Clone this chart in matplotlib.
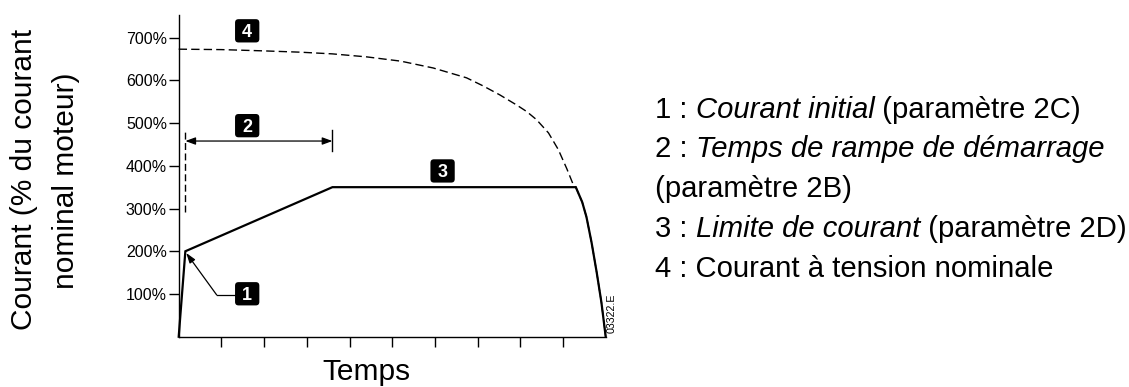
import matplotlib
matplotlib.use('Agg')
import matplotlib.pyplot as plt
import matplotlib.transforms as mtransforms
from matplotlib.patches import FancyBboxPatch

plt.rcParams['font.family'] = ['Liberation Sans', 'DejaVu Sans']

# ---- data (time in arbitrary units, current in % of nominal motor current) ----
time_start = [0, 0.156, 3.6, 9.30, 9.45, 9.55, 9.67, 9.79, 9.90, 10.0]
current_start = [0, 200, 350, 350, 315, 280, 220, 150, 80, 0]

time_dol = [0, 1.0, 2.0, 2.84, 3.6, 4.4, 5.2, 5.96, 6.74, 7.13, 7.52, 7.92, 8.15,
            8.38, 8.66, 8.89, 9.09, 9.24, 9.30, 9.45, 9.55, 9.67, 9.79, 9.90, 10.0]
current_dol = [673, 672, 669, 666, 662, 655, 645, 629, 606, 587, 566, 542, 527,
               508, 477, 438, 393, 356, 350, 315, 280, 220, 150, 80, 0]

y_ticks = [100, 200, 300, 400, 500, 600, 700]
y_tick_labels = ['100%', '200%', '300%', '400%', '500%', '600%', '700%']
x_ticks = [1, 2, 3, 4, 5, 6, 7, 8, 9]

initial_current = 200
ramp_start = 0.156
ramp_end = 3.6
ramp_arrow_level = 458

badge_labels = ['1', '2', '3', '4']
badge_x = [1.604, 1.604, 6.18, 1.604]
badge_y = [100.5, 494, 388, 716]

legend_lines = [
    [('1 : ', 'normal'), ('Courant initial', 'italic'), (' (paramètre 2C)', 'normal')],
    [('2 : ', 'normal'), ('Temps de rampe de démarrage', 'italic')],
    [('(paramètre 2B)', 'normal')],
    [('3 : ', 'normal'), ('Limite de courant', 'italic'), (' (paramètre 2D)', 'normal')],
    [('4 : Courant à tension nominale', 'normal')],
]
legend_baselines_px = [117.5, 157, 197, 237, 277]

W, H = 1129, 387
fig = plt.figure(figsize=(W / 100, H / 100), dpi=100)
ax_left, ax_right, ax_bottom, ax_top = 178.7, 605.7, 336.7, 15
ax = fig.add_axes([ax_left / W, (H - ax_bottom) / H, (ax_right - ax_left) / W, (ax_bottom - ax_top) / H])
ax.set_xlim(0, 10)
ax.set_ylim(0, 753)
ax.spines[['top', 'right']].set_visible(False)
for s in ['left', 'bottom']:
    ax.spines[s].set_linewidth(1.0)
ax.set_yticks(y_ticks)
ax.set_yticklabels(y_tick_labels, fontsize=11.5)
ax.set_xticks(x_ticks)
ax.set_xticklabels([])
ax.tick_params(axis='both', direction='out', length=7.5, width=1.0, pad=1, colors='black')

# curves
ax.plot(time_dol, current_dol, color='black', lw=1.0, linestyle=(0, (6, 3)), clip_on=False)
ax.plot(time_start, current_start, color='black', lw=1.6, clip_on=False, solid_joinstyle='miter')

# ramp time annotation
ax.plot([ramp_start, ramp_start], [293, 484], color='black', lw=1.0, linestyle=(0, (5, 2.5)))
ax.plot([ramp_end, ramp_end], [434, 484], color='black', lw=1.0)
ax.annotate('', xy=(ramp_end, ramp_arrow_level), xytext=(ramp_start, ramp_arrow_level),
            arrowprops=dict(arrowstyle='<|-|>,head_length=0.6,head_width=0.22', mutation_scale=10,
                            lw=0.9, color='black', shrinkA=0, shrinkB=0))

# pointer for initial current
elbow_x, elbow_y = 0.89, 97.7
box_w, box_h = 0.243, 0.233
badge_left_x = badge_x[0] - (box_w / 2) * 100 / ((ax_right - ax_left) / 10)
ax.plot([badge_left_x, elbow_x], [elbow_y, elbow_y], color='black', lw=0.9)
ax.annotate('', xy=(ramp_start + 0.02, initial_current - 4), xytext=(elbow_x, elbow_y),
            arrowprops=dict(arrowstyle='-|>,head_length=0.6,head_width=0.2', mutation_scale=10,
                            lw=0.9, color='black', shrinkA=0, shrinkB=0))

# badges
fs_badge = 13
for lab, bx, by in zip(badge_labels, badge_x, badge_y):
    trans = fig.dpi_scale_trans + mtransforms.ScaledTranslation(bx, by, ax.transData)
    p = FancyBboxPatch((-box_w / 2, -box_h / 2), box_w, box_h,
                       boxstyle='round,pad=0,rounding_size=0.035',
                       transform=trans, fc='black', ec='none', clip_on=False)
    ax.add_artist(p)
    ttrans = ax.transData + mtransforms.ScaledTranslation(0, -0.358 * fs_badge / 72, fig.dpi_scale_trans)
    ax.text(bx, by, lab, color='white', fontweight='bold', fontsize=fs_badge,
            ha='center', va='baseline', transform=ttrans)

# axis labels
fig.text(366 / W, 1 - 380 / H, 'Temps', fontsize=21.5, ha='center', va='baseline')
fig.text(24 / W, 1 - 179 / H, 'Courant (% du courant', fontsize=21.5, rotation=90,
         ha='center', va='center')
fig.text(66 / W, 1 - 181 / H, 'nominal moteur)', fontsize=21.5, rotation=90,
         ha='center', va='center')
fig.text(612 / W, 1 - 313 / H, '03322.E', fontsize=7.7, rotation=90, ha='center', va='center')

# legend text with mixed styles
fs_legend = 21.1
fig.canvas.draw()
renderer = fig.canvas.get_renderer()
for pieces, base in zip(legend_lines, legend_baselines_px):
    x_px = 655
    for txt, style in pieces:
        t = fig.text(x_px / W, 1 - base / H, txt, fontsize=fs_legend, style=style,
                     ha='left', va='baseline')
        x_px += t.get_window_extent(renderer=renderer).width

fig.savefig('out.png', dpi=100)
